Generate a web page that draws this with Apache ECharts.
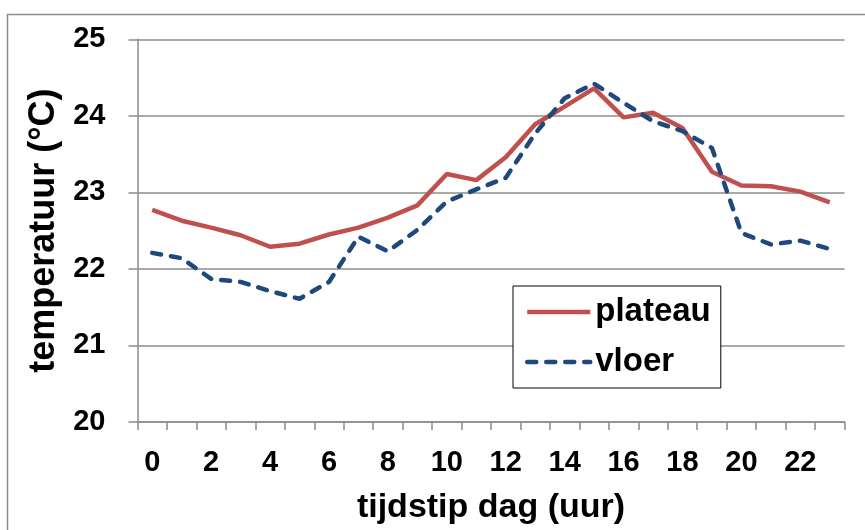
<!DOCTYPE html>
<html>
<head>
<meta charset="utf-8">
<script src="https://cdn.jsdelivr.net/npm/echarts@6/dist/echarts.min.js"></script>
<style>
html,body{margin:0;padding:0;background:#fff;}
#chart{width:865px;height:530px;}
</style>
</head>
<body>
<div id="chart"></div>
<script>
var hours = ['0','1','2','3','4','5','6','7','8','9','10','11','12','13','14','15','16','17','18','19','20','21','22','23'];
var plateau = [22.77,22.63,22.54,22.44,22.29,22.33,22.45,22.54,22.67,22.83,23.24,23.16,23.46,23.89,24.12,24.36,23.98,24.04,23.84,23.27,23.09,23.08,23.01,22.87];
var vloer = [22.21,22.14,21.87,21.83,21.71,21.61,21.83,22.42,22.23,22.51,22.88,23.04,23.19,23.77,24.23,24.42,24.17,23.93,23.80,23.58,22.47,22.32,22.37,22.26];
var seriesNames = ['plateau','vloer'];
var xTitle = 'tijdstip dag (uur)';
var yTitle = 'temperatuur (°C)';

var FONT = '"Liberation Sans", Arial, sans-serif';
var chart = echarts.init(document.getElementById('chart'), null, {renderer:'canvas'});
chart.setOption({
  animation: false,
  backgroundColor: '#fff',
  graphic: [{
    type: 'rect', left: 5, top: 12, z: -10, silent: true,
    shape: {x: 0, y: 0, width: 900, height: 600},
    style: {fill: 'none', stroke: '#8c8c8c', lineWidth: 1.5}
  }],
  grid: {left: 137.5, right: 20.5, top: 39.3, bottom: 107.3, containLabel: false},
  legend: {
    orient: 'vertical', left: 513, top: 286,
    data: seriesNames,
    backgroundColor: '#fff', borderColor: '#000', borderWidth: 1,
    padding: [6, 10, 6, 12],
    itemWidth: 63, itemHeight: 14, itemGap: 10,
    itemStyle: {color: 'transparent', borderColor: 'transparent', borderWidth: 0, opacity: 0},
    lineStyle: {width: 4.5},
    textStyle: {fontFamily: FONT, fontSize: 33, fontWeight: 'bold', color: '#000', lineHeight: 40}
  },
  xAxis: {
    type: 'category', data: hours, boundaryGap: true,
    name: xTitle, nameLocation: 'middle', nameGap: 69,
    nameTextStyle: {fontFamily: FONT, fontSize: 34, fontWeight: 'bold', color: '#000'},
    axisLine: {lineStyle: {color: '#8c8c8c', width: 1.5}},
    axisTick: {show: true, interval: 0, length: 8, lineStyle: {color: '#8c8c8c', width: 1.5}},
    axisLabel: {interval: 1, margin: 26, fontFamily: FONT, fontSize: 29, fontWeight: 'bold', color: '#000'},
    splitLine: {show: false}
  },
  yAxis: {
    type: 'value', min: 20, max: 25, interval: 1,
    name: yTitle, nameLocation: 'middle', nameGap: 72, nameRotate: 90,
    nameTextStyle: {fontFamily: FONT, fontSize: 36, fontWeight: 'bold', color: '#000'},
    axisLine: {show: true, lineStyle: {color: '#8c8c8c', width: 1.5}},
    axisTick: {show: true, length: 9, lineStyle: {color: '#8c8c8c', width: 1.5}},
    axisLabel: {margin: 32, fontFamily: FONT, fontSize: 29, fontWeight: 'bold', color: '#000'},
    splitLine: {show: true, lineStyle: {color: '#8c8c8c', width: 1.5}}
  },
  series: [
    {name: seriesNames[0], type: 'line', data: plateau, symbol: 'none', showSymbol: false,
     lineStyle: {color: '#C0504D', width: 4.5}, itemStyle: {color: '#C0504D'}},
    {name: seriesNames[1], type: 'line', data: vloer, symbol: 'none', showSymbol: false,
     lineStyle: {color: '#1F497D', width: 4.5, type: [9, 10], cap: 'round'}, itemStyle: {color: '#1F497D'}}
  ]
});
</script>
</body>
</html>
